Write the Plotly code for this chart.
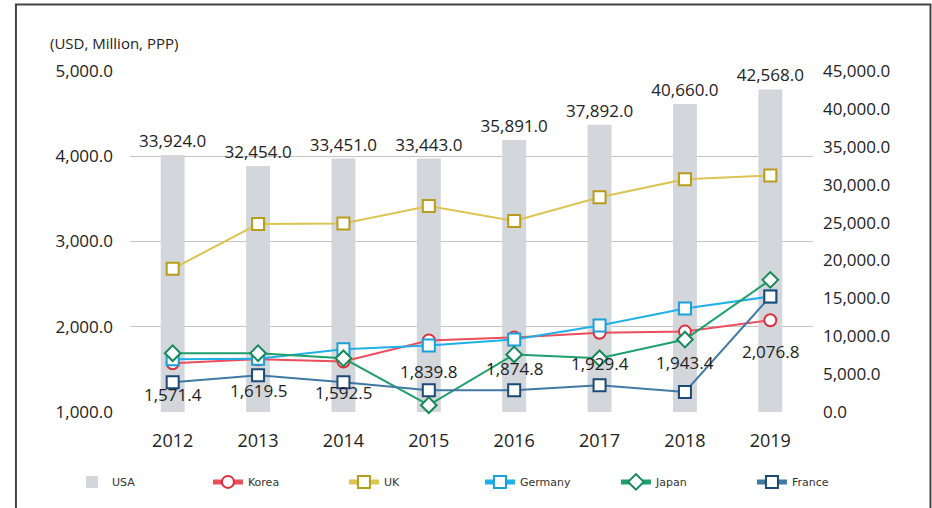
import plotly.graph_objects as go

years = ["2012", "2013", "2014", "2015", "2016", "2017", "2018", "2019"]
usa = [33924.0, 32454.0, 33451.0, 33443.0, 35891.0, 37892.0, 40660.0, 42568.0]
korea = [1571.4, 1619.5, 1592.5, 1839.8, 1874.8, 1929.4, 1943.4, 2076.8]
uk = [2680, 3205, 3210, 3415, 3240, 3520, 3730, 3775]
germany = [1620, 1625, 1735, 1780, 1850, 2015, 2215, 2355]
japan = [1690, 1690, 1630, 1080, 1675, 1630, 1850, 2550]
france = [1350, 1430, 1350, 1255, 1255, 1315, 1235, 2355]

FONT = "Open Sans"
fig = go.Figure()

fig.add_trace(go.Bar(
    x=years, y=usa, name="USA", yaxis="y",
    marker=dict(color="#d3d6db", line=dict(width=0)),
    width=0.28,
    texttemplate="%{y:,.1f}", textposition="outside", constraintext="none",
    textfont=dict(family=FONT, size=17, color="#222"),
    cliponaxis=False,
))

def line(name, vals, color, mcolor, symbol):
    fig.add_trace(go.Scatter(
        x=years, y=vals, name=name, yaxis="y2", mode="lines+markers",
        line=dict(color=color, width=2),
        marker=dict(symbol=symbol, size=12, color="white",
                    line=dict(color=mcolor, width=2)),
        cliponaxis=False,
    ))

line("Korea", korea, "#ea4e5c", "#d8303f", "circle")
line("UK", uk, "#dcc450", "#b89c1c", "square")
line("Germany", germany, "#1fb0e8", "#1a9fd8", "square")
line("Japan", japan, "#1f9f6c", "#148a58", "diamond")
line("France", france, "#4079a4", "#1c4a74", "square")

for i, v in enumerate(korea):
    fig.add_annotation(x=i, y=v, xref="x", yref="y2", text=f"{v:,.1f}", showarrow=False,
                       yshift=-31, font=dict(family=FONT, size=17, color="#222"))

fig.add_annotation(x=-0.12, y=1.082, xref="paper", yref="paper",
                   text="(USD, Million, PPP)", showarrow=False,
                   xanchor="left", yanchor="middle",
                   font=dict(family=FONT, size=15, color="#222"))

fig.add_shape(type="rect", xref="paper", yref="paper",
              x0=-0.167, x1=1.172, y0=-0.4, y1=1.195,
              line=dict(color="#444", width=2), layer="above")

fig.update_layout(
    width=932, height=508,
    margin=dict(l=130, r=119, t=71, b=94),
    plot_bgcolor="white", paper_bgcolor="white",
    font=dict(family=FONT, color="#222"),
    barmode="overlay",
    xaxis=dict(type="category", range=[-0.5, len(years) - 0.5], showgrid=False,
               showline=False, ticks="",
               tickfont=dict(size=18, color="#222"), ticklabelstandoff=16),
    yaxis=dict(side="right", range=[0, 45000], dtick=5000, tickformat=",.1f",
               showgrid=False, zeroline=False, showline=False,
               tickfont=dict(size=17, color="#222"), ticklabelstandoff=9),
    yaxis2=dict(side="left", overlaying="y", range=[1000, 5000], dtick=1000,
                tickformat=",.1f", showgrid=True, gridcolor="#c4c4c4", gridwidth=1,
                zeroline=False, showline=False,
                tickfont=dict(size=17, color="#222"), ticklabelstandoff=16),
    legend=dict(orientation="h", x=-0.085, xanchor="left", y=-0.205, yanchor="middle",
                entrywidth=91, entrywidthmode="pixels",
                font=dict(family="DejaVu Sans", size=11, color="#333"),
                itemsizing="constant"),
    showlegend=True,
)

fig.write_html("out.html")
